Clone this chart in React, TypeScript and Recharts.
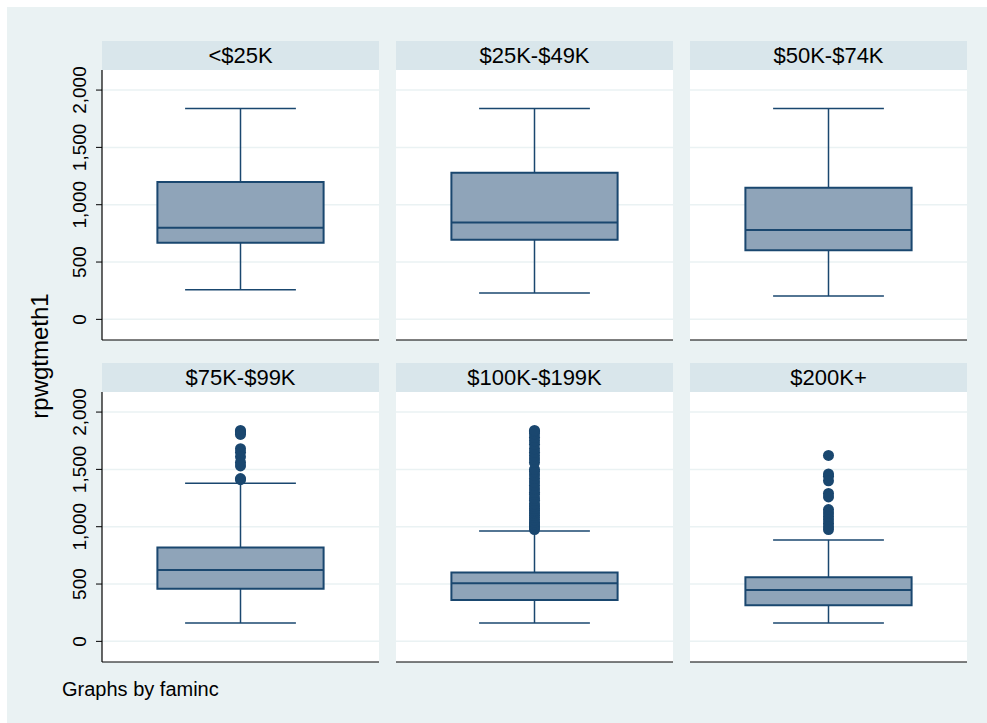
import React from 'react';
import {
  ComposedChart,
  XAxis,
  YAxis,
  CartesianGrid,
  ReferenceArea,
  ReferenceLine,
  Scatter,
} from 'recharts';

// ---------- data ----------
const categories = ['<$25K', '$25K-$49K', '$50K-$74K', '$75K-$99K', '$100K-$199K', '$200K+'];
const whiskerLow = [258, 230, 203, 160, 160, 160];
const quartile1 = [669, 695, 603, 458, 361, 314];
const medians = [800, 844, 780, 623, 507, 448];
const quartile3 = [1199, 1278, 1147, 818, 600, 559];
const whiskerHigh = [1839, 1839, 1839, 1380, 963, 885];
const outliers75 = [1840, 1830, 1820, 1805, 1680, 1650, 1610, 1560, 1530, 1420, 1410];
const outliers100 = [
  975, 990, 1000, 1010, 1025, 1040, 1060, 1080, 1100, 1120, 1140, 1160, 1180, 1200, 1230,
  1250, 1280, 1300, 1330, 1360, 1390, 1420, 1450, 1480, 1500, 1560, 1590, 1620, 1650, 1680,
  1720, 1750, 1780, 1810, 1830, 1840,
];
const outliers200 = [1622, 1460, 1440, 1400, 1290, 1260, 1150, 1120, 1090, 1060, 1030, 1000, 975];
const outliers: number[][] = [[], [], [], outliers75, outliers100, outliers200];
const yTicks = [0, 500, 1000, 1500, 2000];
const yDomain = [-180, 2175];
const yLabel = 'rpwgtmeth1';
const footnote = 'Graphs by faminc';

// ---------- layout / style ----------
const W = 987;
const H = 723;
const colLefts = [102, 396, 690];
const headerTops = [41, 363];
const plotTops = [70, 392];
const plotW = 277;
const plotH = 270;
const headerH = 29;
const axisW = 60;
const padTop = 24;
const FONT = '"Liberation Sans", Arial, Helvetica, sans-serif';
const NAVY = '#1A476F';
const BOXFILL = '#8FA4B9';
const BG = '#EAF2F3';
const STRIP = '#D9E6EB';
const GRID = '#EAF2F3';

const RotTick = (props: any) => {
  const { x, y, payload } = props;
  const cx = x - 8;
  return (
    <text
      x={cx}
      y={y}
      transform={`rotate(-90 ${cx} ${y})`}
      textAnchor="middle"
      fontSize={19}
      fontFamily={FONT}
      fill="#000"
    >
      {payload.value.toLocaleString('en-US')}
    </text>
  );
};

const Dot = (p: any) => <circle cx={p.cx} cy={p.cy} r={5.5} fill={NAVY} />;
const NoMark = () => <g />;

function Panel({ i }: { i: number }) {
  const col = i % 3;
  const row = Math.floor(i / 3);
  const withAxis = col === 0;
  const left = colLefts[col] - (withAxis ? axisW : 0);
  const width = plotW + (withAxis ? axisW : 0);
  const pts = outliers[i].map((v) => ({ x: 0.5, y: v }));
  const stats = [whiskerLow[i], quartile1[i], medians[i], quartile3[i], whiskerHigh[i]].map((v) => ({
    x: 0.5,
    y: v,
  }));
  return (
    <>
      <div
        style={{
          position: 'absolute',
          left: colLefts[col],
          top: headerTops[row],
          width: plotW,
          height: headerH,
          background: STRIP,
        }}
      />
      <div
        style={{
          position: 'absolute',
          left: colLefts[col],
          top: plotTops[row],
          width: plotW,
          height: plotH,
          background: '#fff',
        }}
      />
      <div style={{ position: 'absolute', left, top: plotTops[row] - padTop }}>
        <ComposedChart
          width={width}
          height={plotH + 2 + padTop}
          margin={{ top: padTop, right: 0, bottom: 0, left: 0 }}
        >
          <CartesianGrid
            horizontal
            vertical={false}
            stroke={GRID}
            strokeWidth={1.5}
            horizontalValues={yTicks}
          />
          <XAxis
            type="number"
            dataKey="x"
            domain={[0, 1]}
            tick={false}
            tickLine={false}
            height={2}
            axisLine={{ stroke: '#000', strokeWidth: 1.2 }}
          />
          <YAxis
            type="number"
            dataKey="y"
            domain={yDomain}
            ticks={yTicks}
            allowDataOverflow
            hide={!withAxis}
            width={withAxis ? axisW : 0}
            tick={<RotTick />}
            tickSize={6}
            tickLine={{ stroke: '#000' }}
            axisLine={{ stroke: '#000', strokeWidth: 1.2 }}
          />
          <Scatter data={stats} dataKey="y" shape={NoMark} isAnimationActive={false} />
          <ReferenceLine
            segment={[{ x: 0.5, y: whiskerLow[i] }, { x: 0.5, y: quartile1[i] }]}
            stroke={NAVY}
            strokeWidth={1.5}
          />
          <ReferenceLine
            segment={[{ x: 0.5, y: quartile3[i] }, { x: 0.5, y: whiskerHigh[i] }]}
            stroke={NAVY}
            strokeWidth={1.5}
          />
          <ReferenceLine
            segment={[{ x: 0.3, y: whiskerLow[i] }, { x: 0.7, y: whiskerLow[i] }]}
            stroke={NAVY}
            strokeWidth={1.5}
          />
          <ReferenceLine
            segment={[{ x: 0.3, y: whiskerHigh[i] }, { x: 0.7, y: whiskerHigh[i] }]}
            stroke={NAVY}
            strokeWidth={1.5}
          />
          <ReferenceArea
            x1={0.2}
            x2={0.8}
            y1={quartile1[i]}
            y2={quartile3[i]}
            fill={BOXFILL}
            fillOpacity={1}
            stroke={NAVY}
            strokeWidth={2}
          />
          <ReferenceLine
            segment={[{ x: 0.2, y: medians[i] }, { x: 0.8, y: medians[i] }]}
            stroke={NAVY}
            strokeWidth={2}
          />
          <Scatter data={pts} dataKey="y" shape={Dot} isAnimationActive={false} />
        </ComposedChart>
      </div>
    </>
  );
}

export default function App() {
  return (
    <div
      style={{
        position: 'absolute',
        left: 0,
        top: 0,
        width: W,
        height: H,
        background: '#fff',
        overflow: 'hidden',
        fontFamily: FONT,
      }}
    >
      <div style={{ position: 'absolute', left: 7, top: 7, width: W - 7, height: H - 7, background: BG }} />
      {categories.map((_, i) => (
        <Panel key={i} i={i} />
      ))}
      <svg
        width={W}
        height={H}
        style={{ position: 'absolute', left: 0, top: 0, pointerEvents: 'none' }}
      >
        {categories.map((c, i) => {
          const col = i % 3;
          const row = Math.floor(i / 3);
          return (
            <text
              key={c}
              x={colLefts[col] + plotW / 2}
              y={headerTops[row] + 22}
              textAnchor="middle"
              fontSize={22}
              fontFamily={FONT}
              fill="#000"
            >
              {c}
            </text>
          );
        })}
        <text
          x={48}
          y={356}
          transform="rotate(-90 48 356)"
          textAnchor="middle"
          fontSize={24}
          fontFamily={FONT}
          fill="#000"
        >
          {yLabel}
        </text>
        <text x={62} y={696} fontSize={20} fontFamily={FONT} fill="#000">
          {footnote}
        </text>
      </svg>
    </div>
  );
}
